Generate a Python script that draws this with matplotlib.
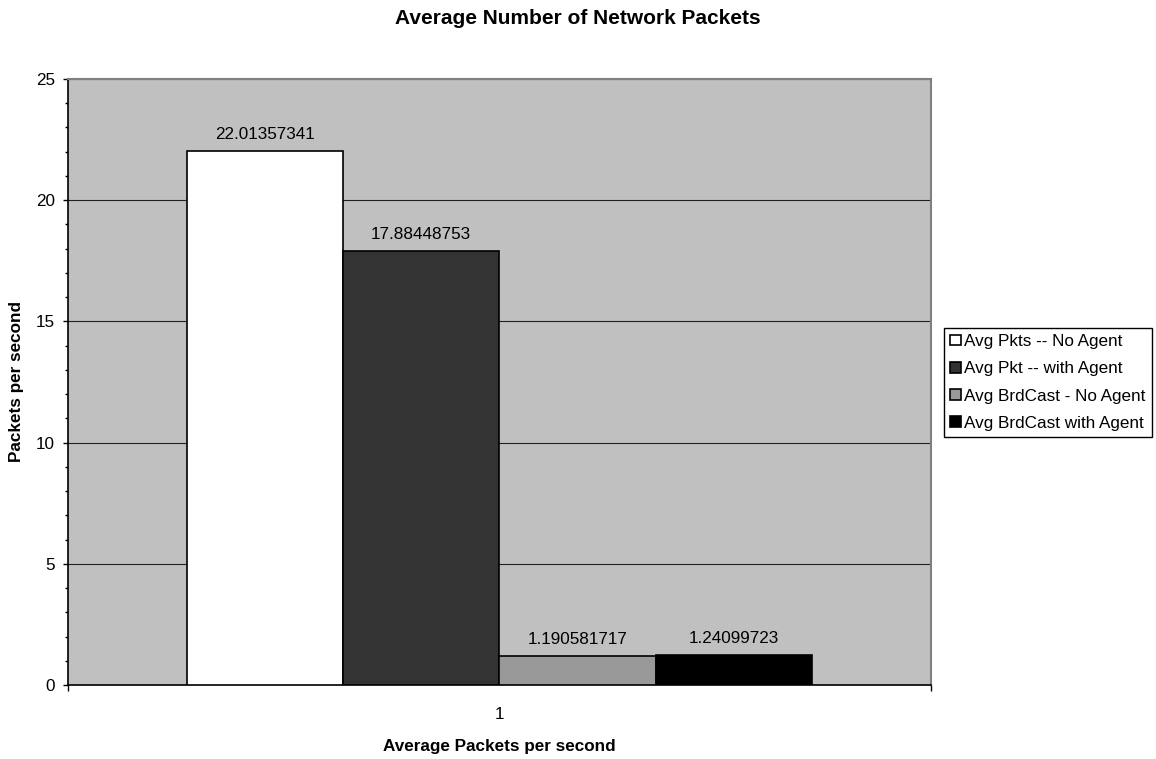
import matplotlib
matplotlib.use("Agg")
import matplotlib.pyplot as plt
from matplotlib.ticker import MultipleLocator

plt.rcParams['font.family'] = ['Liberation Sans', 'DejaVu Sans']

series = ["Avg Pkts -- No Agent", "Avg Pkt -- with Agent",
          "Avg BrdCast - No Agent", "Avg BrdCast with Agent"]
values = [22.01357341, 17.88448753, 1.190581717, 1.24099723]
labels = ["22.01357341", "17.88448753", "1.190581717", "1.24099723"]
colors = ["#FFFFFF", "#333333", "#999999", "#000000"]
category = 1

FS = 12.3
fig = plt.figure(figsize=(11.56, 7.59), dpi=100)
ax = fig.add_axes([68/1156, 1-685/759, (931-68)/1156, (685-79)/759])
ax.set_facecolor("#C0C0C0")

w = 0.1813
for i, (s, v, c, lab) in enumerate(zip(series, values, colors, labels)):
    x = category + (i - 1.5) * w
    ax.bar(x, v, width=w, color=c, edgecolor="black", linewidth=1.2, label=s, zorder=3)
    ax.annotate(lab, (x, v), xytext=(0, 12), textcoords="offset points",
                ha="center", va="center", fontsize=FS)

ax.set_xlim(0.5, 1.5)
ax.set_ylim(0, 25)
ax.yaxis.set_major_locator(MultipleLocator(5))
ax.yaxis.set_minor_locator(MultipleLocator(1))
ax.grid(axis="y", which="major", color="#202020", linewidth=0.8, zorder=1)
ax.set_xticks([0.5, 1.5], minor=True)
ax.set_xticks([1])
ax.set_xticklabels(["1"])
ax.tick_params(axis="x", which="major", length=0, pad=15.5, labelsize=FS)
ax.tick_params(axis="x", which="minor", length=4, direction="out", width=1)
ax.tick_params(axis="y", which="major", length=3.6, direction="out", labelsize=FS, pad=6, width=1)
ax.tick_params(axis="y", which="minor", length=2.2, direction="out", width=1)

for sp in ["left", "bottom"]:
    ax.spines[sp].set_color("black")
    ax.spines[sp].set_linewidth(1.2)
for sp in ["top", "right"]:
    ax.spines[sp].set_color("#808080")
    ax.spines[sp].set_linewidth(1.5)

ax.set_xlabel("Average Packets per second", fontsize=FS, fontweight="bold")
ax.xaxis.set_label_coords(0.5, (685-747)/606)
ax.xaxis.label.set_va("center")
ax.set_ylabel("Packets per second", fontsize=FS, fontweight="bold")
ax.yaxis.set_label_coords((17-68)/863, 0.5)
ax.yaxis.label.set_va("center")
fig.text(578/1156, 1-18/759, "Average Number of Network Packets",
         ha="center", va="center", fontsize=15, fontweight="bold")

leg = ax.legend(loc="upper left", bbox_to_anchor=(944/1156, 1-328/759),
                bbox_transform=fig.transFigure, fontsize=FS, frameon=True,
                fancybox=False, edgecolor="black", framealpha=1,
                handlelength=0.65, handleheight=0.6, handletextpad=0.2,
                borderpad=0.35, labelspacing=0.72, borderaxespad=0)
leg.get_frame().set_linewidth(1.0)

fig.savefig("out.png", dpi=100)
